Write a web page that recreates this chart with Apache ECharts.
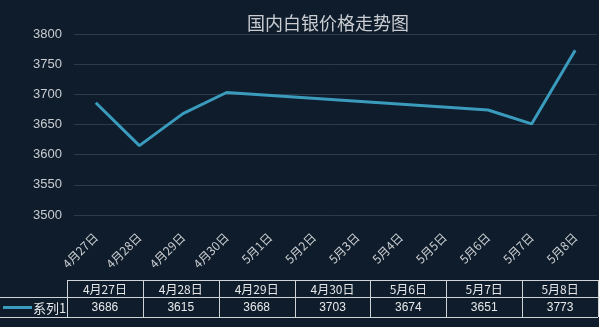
<!DOCTYPE html>
<html>
<head>
<meta charset="utf-8">
<script src="https://cdn.jsdelivr.net/npm/echarts@6/dist/echarts.min.js"></script>
<style>
  html, body { margin: 0; padding: 0; background: #0e1c2b; }
  #chart { width: 599px; height: 327px; }
</style>
</head>
<body>
<div id="chart"></div>
<script>
// axis days (calendar, incl. holiday gap)
const axisDays = ['4月27日', '4月28日', '4月29日', '4月30日', '5月1日', '5月2日',
  '5月3日', '5月4日', '5月5日', '5月6日', '5月7日', '5月8日'];
// trading days + prices (also shown in the data table)
const tableDays = ['4月27日', '4月28日', '4月29日', '4月30日', '5月6日', '5月7日', '5月8日'];
const prices = [3686, 3615, 3668, 3703, 3674, 3651, 3773];
const seriesName = '系列1';
const yMin = 3500;
const yMax = 3800;
const yStep = 50;

const lineColor = '#3a9bbd';
const textColor = '#c9ccd0';
const tableLine = '#d0d3d6';
const font = "'Noto Sans CJK SC', 'Liberation Sans', sans-serif";
const numFont = "'Liberation Sans', 'Noto Sans CJK SC', sans-serif";

const chart = echarts.init(document.getElementById('chart'));

const lineData = axisDays.map((d) => {
  const i = tableDays.indexOf(d);
  return i < 0 ? null : prices[i];
});

// data table under the chart
const tbl = { left: 67, right: 598, top: 280, mid: 297, bottom: 317 };
const colW = (tbl.right - tbl.left) / tableDays.length;
const graphics = [];
const hline = (x1, x2, y) => graphics.push({
  type: 'line', silent: true,
  shape: { x1, y1: y + 0.5, x2, y2: y + 0.5 },
  style: { stroke: tableLine, lineWidth: 1 },
});
const vline = (x, y1, y2) => graphics.push({
  type: 'line', silent: true,
  shape: { x1: Math.round(x) + 0.5, y1, x2: Math.round(x) + 0.5, y2 },
  style: { stroke: tableLine, lineWidth: 1 },
});
hline(tbl.left, tbl.right, tbl.top);
hline(0, tbl.right, tbl.mid);
hline(0, tbl.right, tbl.bottom);
for (let i = 0; i <= tableDays.length; i++) {
  vline(tbl.left + i * colW, tbl.top, tbl.bottom);
}
tableDays.forEach((d, i) => {
  const cx = tbl.left + (i + 0.5) * colW;
  graphics.push({
    type: 'text', silent: true, x: cx, y: (tbl.top + tbl.mid) / 2 + 1,
    style: { text: d, fill: '#e6e8ea', font: '12px ' + font, align: 'center', verticalAlign: 'middle' },
  });
  graphics.push({
    type: 'text', silent: true, x: cx, y: (tbl.mid + tbl.bottom) / 2 + 1,
    style: { text: String(prices[i]), fill: '#e6e8ea', font: '12px ' + numFont, align: 'center', verticalAlign: 'middle' },
  });
});
// legend key in the table
graphics.push({
  type: 'line', silent: true,
  shape: { x1: 3, y1: 307.5, x2: 32, y2: 307.5 },
  style: { stroke: lineColor, lineWidth: 3 },
});
graphics.push({
  type: 'text', silent: true, x: 33, y: 308,
  style: { text: seriesName, fill: '#e6e8ea', font: '13px ' + font, verticalAlign: 'middle' },
});

chart.setOption({
  backgroundColor: '#0e1c2b',
  animation: false,
  title: {
    text: '国内白银价格走势图',
    left: 242,
    top: 9,
    textStyle: { color: textColor, fontSize: 18, fontWeight: 'normal', fontFamily: font },
  },
  grid: { left: 74, right: 2, top: 34, bottom: 112 },
  xAxis: {
    type: 'category',
    data: axisDays,
    boundaryGap: true,
    axisLine: { show: false },
    axisTick: { show: false },
    axisLabel: {
      interval: 0,
      rotate: 45,
      color: textColor,
      fontSize: 12,
      fontFamily: font,
      margin: 20,
    },
  },
  yAxis: {
    type: 'value',
    min: yMin,
    max: yMax,
    interval: yStep,
    axisLine: { show: false },
    axisTick: { show: false },
    axisLabel: {
      color: textColor, fontSize: 13, fontFamily: numFont, margin: 12,
      formatter: (v) => String(v),
    },
    splitLine: { lineStyle: { color: '#2c3b4b', width: 1 } },
  },
  series: [
    {
      name: seriesName,
      type: 'line',
      data: lineData,
      connectNulls: true,
      showSymbol: false,
      lineStyle: { color: lineColor, width: 3 },
      itemStyle: { color: lineColor },
    },
  ],
  graphic: graphics,
});
</script>
</body>
</html>
